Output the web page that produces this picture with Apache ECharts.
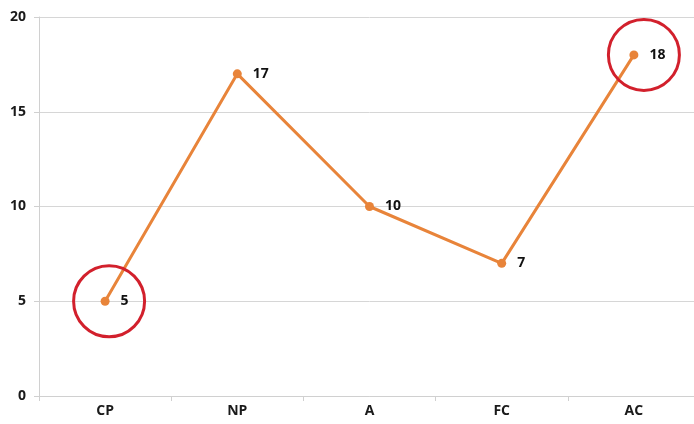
<!DOCTYPE html>
<html>
<head>
<meta charset="utf-8">
<script src="https://cdn.jsdelivr.net/npm/echarts@6/dist/echarts.min.js"></script>
<style>
  html, body { margin: 0; padding: 0; background: #fff; overflow: hidden; }
  /* the plot runs a few pixels past the right edge of the window */
  #chart { width: 700px; height: 424px; }
</style>
</head>
<body>
<div id="chart"></div>
<script>
// Categories and values of the line
const categories = ['CP', 'NP', 'A', 'FC', 'AC'];
const values = [5, 17, 10, 7, 18];
// Points highlighted with a red ring
const highlighted = ['CP', 'AC'];
const yTicks = { min: 0, max: 20, interval: 5 };

const chart = echarts.init(document.getElementById('chart'));
const font = '"Open Sans", Lato, sans-serif';

chart.setOption({
  animation: false,
  backgroundColor: '#ffffff',
  grid: { left: 39, right: 0, top: 17, bottom: 28 },
  xAxis: {
    type: 'category',
    data: categories,
    boundaryGap: true,
    axisLine: { show: true, lineStyle: { color: '#d0d0d0', width: 1 } },
    axisTick: { show: true, length: 5, lineStyle: { color: '#d0d0d0' } },
    axisLabel: { color: '#1a1a1a', fontFamily: font, fontWeight: 'bold', fontSize: 14, margin: 8 }
  },
  yAxis: {
    type: 'value',
    min: yTicks.min,
    max: yTicks.max,
    interval: yTicks.interval,
    axisLine: { show: true, lineStyle: { color: '#d0d0d0', width: 1 } },
    axisTick: { show: true, length: 5, lineStyle: { color: '#d0d0d0' } },
    axisLabel: { color: '#1a1a1a', fontFamily: font, fontWeight: 'bold', fontSize: 14, margin: 13 },
    splitLine: { show: true, lineStyle: { color: '#d6d6d6', width: 1 } }
  },
  series: [{
    type: 'line',
    data: values,
    symbol: 'circle',
    symbolSize: 9,
    lineStyle: { color: '#e8843a', width: 3 },
    itemStyle: { color: '#e8843a' },
    label: {
      show: true,
      position: 'right',
      distance: 11,
      color: '#111',
      fontFamily: font,
      fontWeight: 'bold',
      fontSize: 14
    },
    markPoint: {
      symbol: 'circle',
      symbolSize: 71,
      silent: true,
      label: { show: false },
      itemStyle: { color: 'rgba(0,0,0,0)', borderColor: '#d2202c', borderWidth: 3 },
      data: highlighted.map(function (c, i) {
        const idx = categories.indexOf(c);
        return { coord: [c, values[idx]], symbolOffset: [i === 0 ? 4 : 10, 0] };
      })
    }
  }]
});
</script>
</body>
</html>
